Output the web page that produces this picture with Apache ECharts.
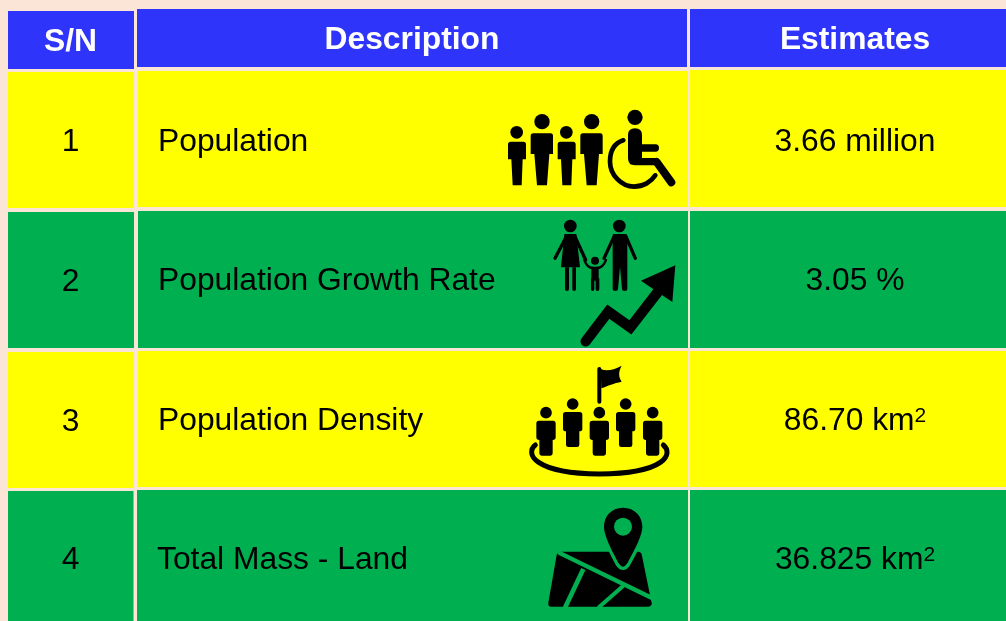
<!DOCTYPE html>
<html>
<head>
<meta charset="utf-8">
<title>Population estimates</title>
<script src="https://cdn.jsdelivr.net/npm/echarts@6/dist/echarts.min.js"></script>
<style>
  html, body { margin: 0; padding: 0; background: #fbe5d6; }
  #chart { width: 1006px; height: 621px; }
</style>
</head>
<body>
<div id="chart"></div>
<script>
const headers = ["S/N", "Description", "Estimates"];
const serials = ["1", "2", "3", "4"];
const descriptions = ["Population", "Population Growth Rate", "Population Density", "Total Mass - Land"];
const estimates = ["3.66 million", "3.05 %", "86.70 km", "36.825 km"];
const superscripts = ["", "", "2", "2"];

// cell edges in page pixels, the source table is slightly uneven: [x0, x1, y0, y1]
const rowBoxes = [
  [[8, 134, 11, 69], [137, 687, 9, 67], [690, 1006, 9, 67]],
  [[8, 134, 72, 208], [138, 688, 71, 207], [690, 1006, 70, 207]],
  [[8, 134, 212, 348], [138, 688, 211, 348], [690, 1006, 211, 348]],
  [[8, 134, 352, 488], [138, 688, 351, 487], [690, 1006, 351, 487]],
  [[8, 133.5, 491, 621], [137, 688, 490, 621], [690, 1006, 490, 621]],
];
// text anchors per row and column
const textY = [[42, 40, 40], [142, 142, 142], [282, 281, 281], [422, 421, 421], [560, 560, 560]];
const columnX = [70.5, 412, 855];
const descX = [158, 158, 158, 157];
const fills = ["#2e34fa", "#ffff00", "#00b050", "#ffff00", "#00b050"];
const FONT = '"Liberation Sans", Arial, sans-serif';
const BLACK = "#000000";
const GREEN = "#00b050";

const cells = [];
for (let r = 0; r < rowBoxes.length; r++) {
  for (let c = 0; c < 3; c++) cells.push({ value: [c, r] });
}

function cellText(c, r) {
  if (r === 0) return headers[c];
  if (c === 0) return serials[r - 1];
  if (c === 1) return descriptions[r - 1];
  const sup = superscripts[r - 1];
  return sup ? "{n|" + estimates[r - 1] + "}{s|" + sup + "}" : "{n|" + estimates[r - 1] + "}";
}

function renderCell(params, api) {
  const c = api.value(0);
  const r = api.value(1);
  const box = rowBoxes[r][c];
  const p0 = api.coord([box[0], box[2]]);
  const p1 = api.coord([box[1], box[3]]);
  const left = c === 1 && r > 0;
  const pt = api.coord([left ? descX[r - 1] : columnX[c], textY[r][c]]);
  const header = r === 0;
  return {
    type: "group",
    children: [
      {
        type: "rect",
        shape: { x: p0[0], y: p0[1], width: p1[0] - p0[0], height: p1[1] - p0[1] },
        style: { fill: fills[r] },
      },
      {
        type: "text",
        x: pt[0],
        y: pt[1],
        style: {
          text: cellText(c, r),
          fill: header ? "#ffffff" : BLACK,
          font: (header ? "bold " : "") + "31.8px " + FONT,
          align: left ? "left" : "center",
          verticalAlign: "middle",
          rich: {
            n: { font: "31.8px " + FONT, fill: BLACK },
            s: { font: "21px " + FONT, fill: BLACK, padding: [0, 0, 10, 0] },
          },
        },
      },
    ],
  };
}

// icons are traced at 3x, so each group is scaled down by a third
function dot(x, y, r, fill) {
  return { type: "circle", shape: { cx: x, cy: y, r: r }, style: { fill: fill || BLACK } };
}
function solid(d, fill) {
  return { type: "path", shape: { pathData: d }, style: { fill: fill || BLACK } };
}
function line(d, width, color, cap) {
  return {
    type: "path",
    shape: { pathData: d },
    style: { fill: "none", stroke: color || BLACK, lineWidth: width, lineCap: cap || "round", lineJoin: "miter" },
  };
}
function icon(x, y, children) {
  return { type: "group", x: x, y: y, scaleX: 1 / 3, scaleY: 1 / 3, children: children };
}

function smallPerson(o) {
  return [
    dot(80 + o, 157, 19),
    solid(`M${62 + o},185 H${100 + o} Q${108 + o},185 ${108 + o},193 V238 H${98 + o} L${95 + o},316 H${68 + o} L${64 + o},238 H${54 + o} V193 Q${54 + o},185 ${62 + o},185 Z`),
  ];
}
function tallPerson(o) {
  return [
    dot(156 + o, 125, 23),
    solid(`M${130 + o},160 H${182 + o} Q${189 + o},160 ${189 + o},168 V222 H${178 + o} L${171 + o},316 H${141 + o} L${133 + o},222 H${122 + o} V168 Q${122 + o},160 ${130 + o},160 Z`),
  ];
}
function crowdPerson(cx, hy) {
  return [
    dot(cx, hy, 17.5),
    solid(`M${cx - 21},${hy + 24} H${cx + 21} Q${cx + 29},${hy + 24} ${cx + 29},${hy + 32} V${hy + 74} Q${cx + 29},${hy + 82} ${cx + 20},${hy + 82} V${hy + 122} Q${cx + 20},${hy + 129} ${cx + 13},${hy + 129} H${cx - 13} Q${cx - 20},${hy + 129} ${cx - 20},${hy + 122} V${hy + 82} Q${cx - 29},${hy + 82} ${cx - 29},${hy + 74} V${hy + 32} Q${cx - 29},${hy + 24} ${cx - 21},${hy + 24} Z`),
  ];
}

const populationIcon = icon(490, 80, [
  ...smallPerson(0), ...tallPerson(0), ...smallPerson(149), ...tallPerson(149),
  dot(435, 112, 23),
  solid("M414,165 Q414,145 435,145 Q456,145 456,165 V193 H497 Q507,193 507,204 Q507,215 497,215 H456 V234 H500 V256 H435 Q414,256 414,235 Z"),
  line("M500,246 L544,307", 24),
  line("M400,181 C372,190 360,215 360,245 C360,285 395,320 432,320 C460,320 484,305 496,286", 14),
]);

const growthIcon = icon(530, 210, [
  dot(121, 48, 19),
  solid("M103,72 H139 L150,172 H93 Z"),
  solid("M105,172 H117 V238 Q117,243 111,243 Q105,243 105,238 Z M127,172 H138 V238 Q138,243 132,243 Q127,243 127,238 Z"),
  line("M110,78 L75,145", 10),
  line("M134,78 L167,150", 10),
  dot(268, 48, 19),
  solid("M250,72 H288 Q292,72 292,80 V238 Q292,243 284,243 Q276,243 276,238 L270,170 L264,238 Q264,243 256,243 Q248,243 248,238 V80 Q248,72 250,72 Z"),
  line("M252,80 L222,145", 10),
  line("M288,80 L316,145", 10),
  dot(195, 152, 12),
  solid("M184,170 H206 V205 H208 V238 Q208,243 202,243 Q197,243 197,238 V212 H193 V238 Q193,243 188,243 Q183,243 183,238 V205 H184 Z"),
  line("M163,150 Q172,175 190,174", 7),
  line("M228,150 Q218,175 200,174", 7),
  line("M167,394 L235,305 L301,352 L388,240", 31),
  solid("M333,212 L436,166 L427,276 Z"),
]);

const densityIcon = icon(510, 355, [
  line("M268,42 V140", 12),
  solid("M272,42 C290,50 310,45 335,32 C325,50 325,65 335,80 C310,85 295,92 274,100 Z"),
  ...crowdPerson(108, 173), ...crowdPerson(188, 147), ...crowdPerson(268, 173),
  ...crowdPerson(347, 147), ...crowdPerson(428, 173),
  line("M76,270 C45,295 70,355 268,357 C470,355 490,295 460,270", 15),
]);

const landIcon = icon(530, 495, [
  solid("M93,170 H325 Q333,170 335,178 L365,325 Q365,335 355,335 H65 Q53,335 55,323 L80,180 Q82,170 93,170 Z"),
  line("M85,172 L372,312", 13, GREEN, "butt"),
  line("M160,222 L105,338", 14, GREEN, "butt"),
  line("M280,272 L205,338", 12, GREEN, "butt"),
  line("M279,38 C315,38 337,65 337,95 C337,125 305,180 292,205 Q279,225 266,205 C253,180 222,125 222,95 C222,65 243,38 279,38 Z", 20, GREEN),
  solid("M279,38 C315,38 337,65 337,95 C337,125 305,180 292,205 Q279,225 266,205 C253,180 222,125 222,95 C222,65 243,38 279,38 Z"),
  dot(279, 95, 27, GREEN),
]);

const icons = [populationIcon, growthIcon, densityIcon, landIcon];

const chart = echarts.init(document.getElementById("chart"));
chart.setOption({
  animation: false,
  backgroundColor: "#fbe5d6",
  grid: { left: 0, right: 0, top: 0, bottom: 0 },
  xAxis: { type: "value", min: 0, max: 1006, show: false },
  yAxis: { type: "value", min: 0, max: 621, inverse: true, show: false },
  series: [
    { type: "custom", coordinateSystem: "cartesian2d", clip: false, silent: true, renderItem: renderCell, data: cells },
    {
      type: "custom",
      coordinateSystem: "cartesian2d",
      clip: false,
      silent: true,
      z: 3,
      renderItem: (params) => icons[params.dataIndex],
      data: icons.map((d, i) => [i, i]),
    },
  ],
});
</script>
</body>
</html>
